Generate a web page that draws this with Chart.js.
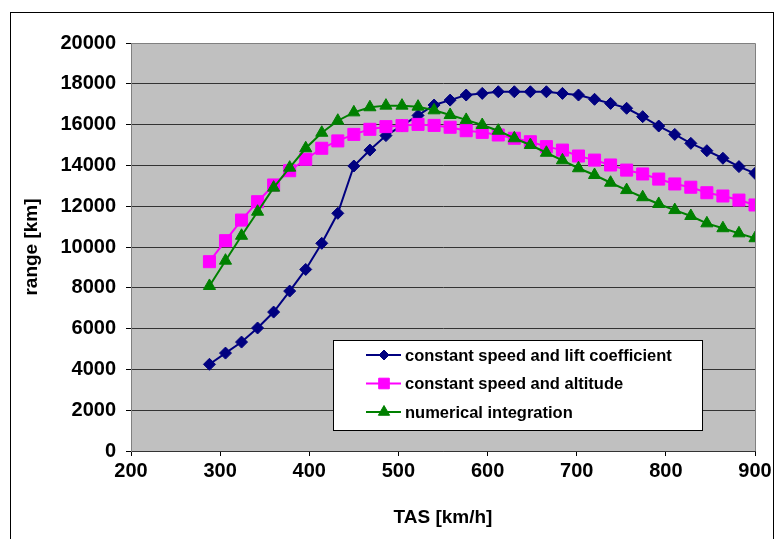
<!DOCTYPE html>
<html>
<head>
<meta charset="utf-8">
<script src="https://cdn.jsdelivr.net/npm/chart.js@4/dist/chart.umd.min.js"></script>
<style>
    html, body { margin: 0; padding: 0; background: #fff; }
    #wrap { width: 776px; height: 539px; }
</style>
</head>
<body>
<div id="wrap"><canvas id="rangeChart" width="776" height="539"></canvas></div>
<script>
// TAS [km/h]
const tas = [288, 306, 324, 342, 360, 378, 396, 414, 432, 450, 468, 486, 504, 522, 540, 558, 576, 594,
             612, 630, 648, 666, 684, 702, 720, 738, 756, 774, 792, 810, 828, 846, 864, 882, 900];

// range [km]
const rangeLiftCoef = [4250, 4800, 5340, 6030, 6810, 7840, 8900, 10180, 11650, 13970,
                       14750, 15460, 15950, 16450, 16960, 17200, 17450, 17530, 17610, 17610,
                       17610, 17610, 17530, 17450, 17240, 17040, 16800, 16390, 15930, 15520,
                       15080, 14720, 14350, 13940, 13610];
const rangeAltitude = [9280, 10310, 11320, 12220, 13040, 13740, 14300, 14840, 15200, 15520,
                       15770, 15900, 15950, 16010, 15960, 15870, 15700, 15620, 15490, 15330,
                       15160, 14920, 14750, 14460, 14260, 14020, 13770, 13580, 13330, 13090,
                       12930, 12660, 12500, 12300, 12060];
const rangeNumerical = [8090, 9330, 10550, 11730, 12910, 13890, 14840, 15600, 16190, 16600,
                        16850, 16930, 16930, 16880, 16700, 16470, 16230, 15980, 15700, 15330,
                        15000, 14620, 14250, 13860, 13530, 13150, 12790, 12440, 12110, 11810,
                        11520, 11160, 10920, 10670, 10430];

const seriesNames = ['constant speed and lift coefficient', 'constant speed and altitude', 'numerical integration'];

// метки осей
const xTicks = [200, 300, 400, 500, 600, 700, 800, 900];
const yTicks = [0, 2000, 4000, 6000, 8000, 10000, 12000, 14000, 16000, 18000, 20000];

const FONT = '"Liberation Sans", Arial, sans-serif';

function toPoints(ys) {
    return tas.map((x, i) => ({ x: x, y: ys[i] }));
}

// фон, рамка диаграммы и серая область построения
const backgroundPlugin = {
    id: 'excelBackground',
    beforeDraw(chart) {
        const { ctx, chartArea: a, width, height } = chart;
        ctx.save();
        ctx.fillStyle = '#fff';
        ctx.fillRect(0, 0, width, height);
        ctx.fillStyle = '#C0C0C0';
        ctx.fillRect(a.left, a.top, a.right - a.left, a.bottom - a.top);
        ctx.strokeStyle = '#000';
        ctx.lineWidth = 1;
        ctx.strokeRect(10.5, 12.5, 763, 560);
        ctx.restore();
    },
    beforeDatasetsDraw(chart) {
        const { ctx, chartArea: a } = chart;
        ctx.save();
        ctx.strokeStyle = '#808080';
        ctx.lineWidth = 1;
        ctx.beginPath();
        ctx.moveTo(a.left, a.top + 0.5);
        ctx.lineTo(a.right + 0.5, a.top + 0.5);
        ctx.lineTo(a.right + 0.5, a.bottom);
        ctx.stroke();
        ctx.restore();
    }
};

// легенда в рамке внутри области построения
const boxLegendPlugin = {
    id: 'boxLegend',
    afterDraw(chart) {
        const ctx = chart.ctx;
        const radii = [5, 7.5, 6.5];
        ctx.save();
        ctx.fillStyle = '#fff';
        ctx.fillRect(333.5, 340.5, 369, 90);
        ctx.strokeStyle = '#000';
        ctx.lineWidth = 1;
        ctx.strokeRect(333.5, 340.5, 369, 90);
        chart.data.datasets.forEach((ds, i) => {
            const y = 355 + i * 28.5;
            ctx.strokeStyle = ds.borderColor;
            ctx.lineWidth = 2;
            ctx.beginPath();
            ctx.moveTo(366, y);
            ctx.lineTo(401, y);
            ctx.stroke();
            ctx.fillStyle = ds.backgroundColor;
            ctx.lineWidth = 1;
            Chart.helpers.drawPoint(ctx, { pointStyle: ds.pointStyle, radius: radii[i], borderWidth: 1, rotation: 0 }, 384, y);
            ctx.fillStyle = '#000';
            ctx.font = 'bold 16.5px ' + FONT;
            ctx.textAlign = 'left';
            ctx.textBaseline = 'middle';
            ctx.fillText(ds.label, 405, y + 1);
        });
        ctx.restore();
    }
};

const ctx = document.getElementById('rangeChart').getContext('2d');
const rangeChart = new Chart(ctx, {
    type: 'line',
    data: {
        datasets: [{
            label: seriesNames[0],
            data: toPoints(rangeLiftCoef),
            borderColor: '#000080',
            backgroundColor: '#000080',
            borderWidth: 2,
            pointStyle: 'rectRot',
            pointRadius: 6,
            pointBorderWidth: 1,
            order: 3
        }, {
            label: seriesNames[1],
            data: toPoints(rangeAltitude),
            borderColor: '#FF00FF',
            backgroundColor: '#FF00FF',
            borderWidth: 2,
            pointStyle: 'rect',
            pointRadius: 8.5,
            pointBorderWidth: 1,
            order: 2
        }, {
            label: seriesNames[2],
            data: toPoints(rangeNumerical),
            borderColor: '#008000',
            backgroundColor: '#008000',
            borderWidth: 2,
            pointStyle: 'triangle',
            pointRadius: 7,
            pointBorderWidth: 1,
            order: 1
        }]
    },
    options: {
        responsive: false,
        animation: false,
        events: [],
        devicePixelRatio: 1,
        elements: { line: { tension: 0 } },
        layout: {
            padding: { left: 16, top: 43, right: 21, bottom: 6 }
        },
        plugins: {
            legend: { display: false },
            tooltip: { enabled: false }
        },
        scales: {
            x: {
                type: 'linear',
                min: 200,
                max: 900,
                afterBuildTicks: s => { s.ticks = xTicks.map(v => ({ value: v })); },
                afterFit: s => { s.height = 82; },
                grid: {
                    drawOnChartArea: false,
                    drawTicks: true,
                    tickLength: 5,
                    tickColor: '#000'
                },
                border: { color: '#333' },
                ticks: {
                    color: '#000',
                    font: { family: FONT, size: 20, weight: 'bold' },
                    padding: 3,
                    maxRotation: 0,
                    autoSkip: false,
                    callback: v => String(v)
                },
                title: {
                    display: true,
                    text: 'TAS [km/h]',
                    color: '#000',
                    font: { family: FONT, size: 19, weight: 'bold' },
                    padding: { top: 0, bottom: 4 }
                }
            },
            y: {
                type: 'linear',
                min: 0,
                max: 20000,
                afterBuildTicks: s => { s.ticks = yTicks.map(v => ({ value: v })); },
                afterFit: s => { s.width = 115; },
                grid: {
                    color: c => (c.tick && c.tick.value === 20000 ? '#808080' : '#333'),
                    drawTicks: true,
                    tickLength: 5,
                    tickColor: '#000'
                },
                border: { color: '#808080' },
                ticks: {
                    color: '#000',
                    font: { family: FONT, size: 20, weight: 'bold' },
                    padding: 10,
                    callback: v => String(v)
                },
                title: {
                    display: true,
                    text: 'range [km]',
                    color: '#000',
                    font: { family: FONT, size: 19, weight: 'bold' },
                    padding: { top: 4, bottom: 0 }
                }
            }
        }
    },
    plugins: [backgroundPlugin, boxLegendPlugin]
});
</script>
</body>
</html>
